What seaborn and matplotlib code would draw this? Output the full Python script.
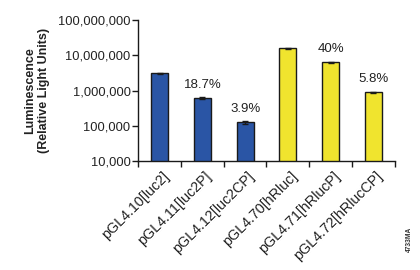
import matplotlib
matplotlib.use("Agg")
import matplotlib.pyplot as plt
import matplotlib.ticker as mticker
import matplotlib.transforms as mtransforms
import seaborn as sns
import pandas as pd
import numpy as np

categories = ["pGL4.10[luc2]", "pGL4.11[luc2P]", "pGL4.12[luc2CP]",
              "pGL4.70[hRluc]", "pGL4.71[hRlucP]", "pGL4.72[hRlucCP]"]
values = [3100000, 610000, 127000, 15900000, 6300000, 900000]
errors = [150000, 30000, 10000, 400000, 200000, 30000]
pct_labels = ["", "18.7%", "3.9%", "", "40%", "5.8%"]
colors = ["#2a55a5", "#2a55a5", "#2a55a5", "#f0e42e", "#f0e42e", "#f0e42e"]
y_ticks = [10000, 100000, 1000000, 10000000, 100000000]

sns.set_style("ticks")
plt.rcParams['font.family'] = ['Liberation Sans', 'DejaVu Sans']

df = pd.DataFrame({"construct": categories, "lum": values})

fig = plt.figure(figsize=(4.2, 2.7), dpi=100)
ax = fig.add_axes([0.329, 0.4026, 0.611, 0.5234])

sns.barplot(data=df, x="construct", y="lum", hue="construct", palette=colors,
            legend=False, width=0.4, edgecolor="#1a1a1a", linewidth=1.0,
            errorbar=None, ax=ax, log_scale=True, saturation=1)
ax.errorbar(np.arange(len(values)), values, yerr=errors, fmt="none",
            ecolor="#1a1a1a", elinewidth=1.0, capsize=2.5, capthick=1.0)

ax.set_yscale("log")
ax.set_ylim(10000, 100000000)
ax.set_yticks(y_ticks)
ax.yaxis.set_major_formatter(mticker.FuncFormatter(lambda v, p: f"{int(round(v)):,}"))
ax.yaxis.set_minor_locator(mticker.NullLocator())
ax.set_xlim(-0.5, 5.5)

ax.set_xticks(np.arange(len(categories)))
ax.set_xticklabels(categories, rotation=45, ha="right", va="center",
                   rotation_mode="anchor", fontsize=10.3, color="#222222")
ax.tick_params(axis="x", length=0, pad=0)
offset = mtransforms.ScaledTranslation(0.07, -0.13, fig.dpi_scale_trans)
for lab in ax.get_xticklabels():
    lab.set_transform(lab.get_transform() + offset)
ax.set_xticks(np.arange(len(categories) + 1) - 0.5, minor=True)
ax.tick_params(axis="x", which="minor", length=4, width=1.0, color="#1a1a1a")
ax.tick_params(axis="y", length=4, width=1.0, color="#1a1a1a", labelsize=9.3,
               labelcolor="#222222", pad=1.5)

for i, lab in enumerate(pct_labels):
    if lab:
        ax.text(i, values[i] * 10 ** (7.5 / 35.3), lab, ha="center", va="bottom",
                fontsize=9.5, color="#222222")

sns.despine(ax=ax)
for s in ["left", "bottom"]:
    ax.spines[s].set_linewidth(1.0)
    ax.spines[s].set_color("#1a1a1a")

ax.set_xlabel("")
ax.set_ylabel("Luminescence\n(Relative Light Units)", fontsize=9, fontweight="bold",
              color="#222222", labelpad=6, linespacing=1.15)

fig.text(0.976, 0.065, "4733MA", rotation=90, fontsize=4.8, fontweight="bold",
         ha="center", va="bottom", color="#333333")

fig.savefig("out.png", dpi=100)
